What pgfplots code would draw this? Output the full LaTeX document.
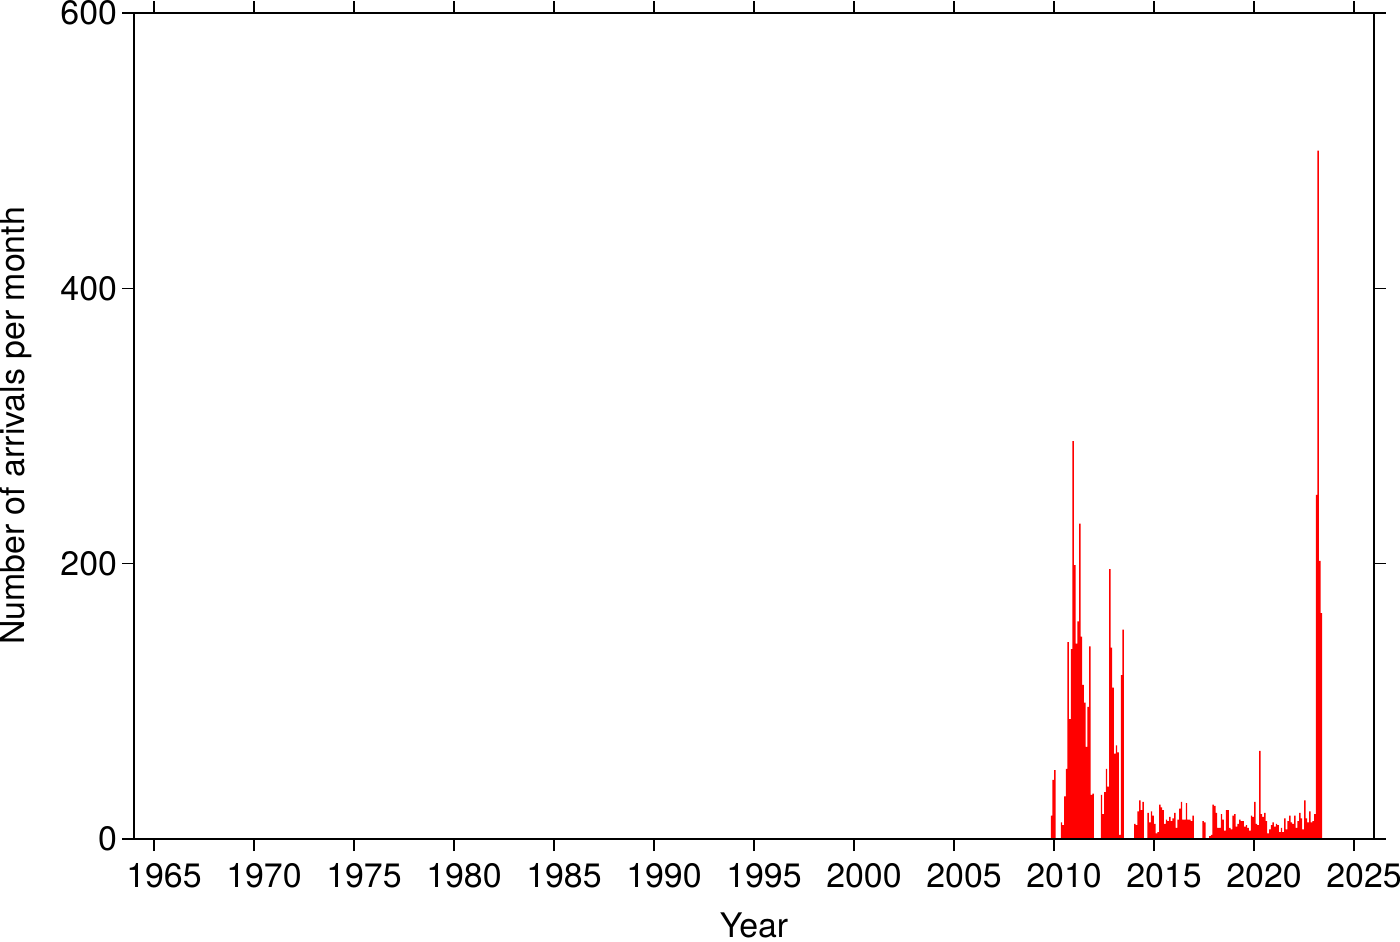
\documentclass[border=0pt]{standalone}
\usepackage{pgfplots}
\pgfplotsset{compat=1.18}
\usepackage{pgfplotstable}
\usepackage{fontspec}
\setmainfont{TeX Gyre Heros}
\pgfplotstableread{
m v
-2 17
-1 43
0 50
4 12
5 10
6 31
7 51
8 143
9 87
10 138
11 289
12 199
13 142
14 158
15 229
16 147
17 112
18 99
19 67
20 96
21 140
22 32
23 33
28 32
29 18
30 34
31 51
32 38
33 196
34 139
35 110
36 62
37 68
38 63
39 3
40 119
41 152
48 11
49 10
50 20
51 28
52 21
53 27
56 19
57 12
58 20
59 17
60 11
61 4
62 5
63 25
64 23
65 21
66 11
67 14
68 13
69 16
70 13
71 15
72 19
73 8
74 14
75 22
76 27
77 14
78 14
79 26
80 14
81 14
82 13
83 17
89 13
90 12
93 2
94 3
95 25
96 24
97 19
98 8
99 8
100 18
101 14
102 6
103 21
104 21
105 8
106 7
107 17
108 18
109 9
110 11
111 14
112 13
113 13
114 9
115 10
116 8
117 6
118 17
119 16
120 27
121 11
122 10
123 64
124 18
125 16
126 19
127 13
128 4
129 7
130 10
131 12
132 9
133 11
134 10
135 5
136 8
137 5
138 15
139 7
140 13
141 17
142 12
143 11
144 17
145 8
146 13
147 19
148 15
149 7
150 28
151 15
152 12
153 20
154 12
155 13
156 18
157 250
158 500
159 202
160 164
}\arrivals
\begin{document}
\begin{tikzpicture}
\path[use as bounding box] (-67bp,-51.5bp) rectangle (633bp,419.5bp);
\begin{axis}[
  at={(0,0)}, anchor=south west,
  scale only axis, width=620bp, height=413bp,
  xmin=1964, xmax=2026, ymin=0, ymax=600,
  xtick={1965,1970,...,2025}, ytick={0,200,400,600},
  tick pos=both, tick align=outside,
  major tick length=6bp,
  every tick/.style={black, line width=0.6bp},
  axis line style={line width=1.2bp},
  axis on top,
  /pgf/number format/1000 sep={},
  /pgf/number format/assume math mode=true,
  tick label style={font=\fontsize{17}{20}\selectfont},
  xticklabel style={anchor=base, yshift=-18.5bp, xshift=5bp},
  yticklabel style={anchor=east, xshift=1bp},
  label style={font=\fontsize{17}{20}\selectfont},
  xlabel={Year},
  xlabel style={anchor=base, inner sep=0pt, at={(axis description cs:0.5,-0.119)}},
  ylabel={Number of arrivals per month},
  ylabel style={anchor=center, at={(axis description cs:-0.0955,0.5)}},
]
\addplot[ybar, bar width=0.072, fill=red, draw=none]
  table[x expr={2010+\thisrow{m}/12+1/24}, y=v] {\arrivals};
\end{axis}
\end{tikzpicture}
\end{document}
